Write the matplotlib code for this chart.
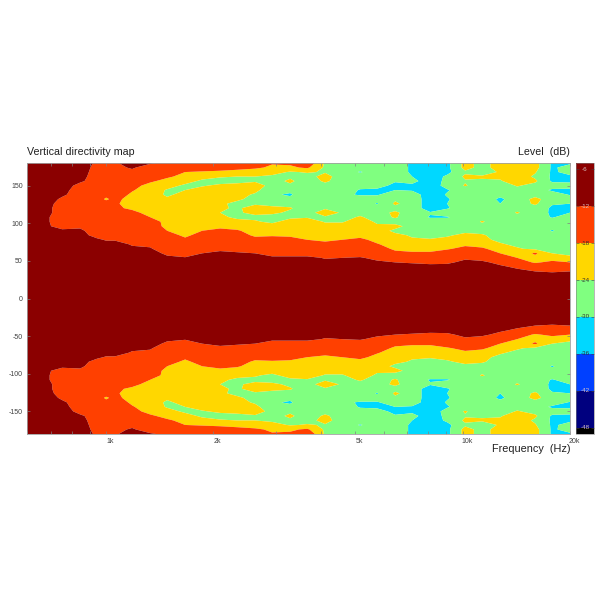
import numpy as np
import matplotlib
matplotlib.use("Agg")
import matplotlib.pyplot as plt
from matplotlib.colors import ListedColormap, BoundaryNorm
from matplotlib.ticker import NullFormatter
from matplotlib.transforms import ScaledTranslation

plt.rcParams['font.family'] = ['Liberation Sans', 'DejaVu Sans']
plt.rcParams['axes.unicode_minus'] = False

FREQ_HZ = [600, 675, 753, 846, 943, 1000, 1060, 1183, 1329, 1483, 1666, 1859, 2088,
           2331, 2618, 2922, 3282, 3663, 4115, 4593, 5158, 5757, 6467, 7217, 8108,
           9050, 10160, 11340, 12740, 14220, 15970, 17830, 20000]

ANGLE_DEG = [180, 174, 168, 162, 156, 150, 144, 138, 132, 126, 120, 114, 108, 102,
             96, 90, 84, 78, 72, 66, 60, 54, 48, 42, 36, 30, 15, 0]

# one line per frequency, angle 180 -> 0. rear half is the mirror of this
LEVEL_DB = [
    [-7, -7, -7, -7, -7, -7, -7, -7, -7, -7, -7, -7, -7, -7, -7, -7, -7, -7, -7, -7, -7, -7, -7, -7, -7, -7, -6, -6],
    [-8, -8, -8, -8, -8, -8, -8, -8, -9, -9, -10, -10, -11, -11, -11, -10, -9, -8, -8, -8, -7, -7, -7, -7, -7, -7, -6, -6],
    [-8, -8, -8, -9, -9, -9, -10, -11, -13, -15, -15, -15, -15, -15, -14, -11, -10, -9, -8, -8, -7, -7, -7, -7, -7, -7, -6, -6],
    [-9, -9, -9, -10, -11, -14, -15, -15, -15, -15, -15, -15, -15, -15, -13, -11, -10, -9, -8, -8, -8, -7, -7, -7, -7, -7, -6, -6],
    [-13, -14, -15, -15, -15, -15, -15, -15, -15, -15, -15, -15, -15, -15, -15, -15, -14, -11, -9, -8, -8, -8, -7, -7, -7, -7, -6, -6],
    [-13, -14, -15, -15, -15, -15, -15, -16, -19, -15, -15, -15, -15, -15, -15, -15, -15, -12.5, -10, -9, -8, -8, -7, -7, -7, -7, -6, -6],
    [-12.5, -13, -14, -15, -15, -15, -15, -15, -16, -17, -17, -15, -15, -15, -15, -15, -15, -12.5, -10, -9, -8, -8, -7, -7, -7, -7, -6, -6],
    [-10, -11.5, -13, -15, -15, -16, -17.5, -19, -21, -21, -19, -16.5, -15, -15, -15, -15, -15, -14, -12.5, -11, -9, -8, -8, -7, -7, -7, -6, -6],
    [-11.5, -14, -15, -15, -17, -20, -21, -21, -21, -21, -21, -20, -18, -15, -15, -15, -15, -15, -13, -11.5, -10, -9, -8, -8, -7, -7, -6, -6],
    [-13, -14, -15, -17, -20, -22, -24.5, -25, -23, -21, -21, -21, -21, -20, -19.5, -18, -16, -15, -15, -15, -13, -11, -9, -8, -7, -7, -6, -6],
    [-14, -15, -18, -20, -22, -25, -24, -22, -21, -21, -21, -21, -21, -21, -20, -20, -19, -17, -15, -15, -15, -11.5, -10, -8, -8, -7, -6, -6],
    [-14, -15, -18.5, -22, -25, -24.5, -22, -21, -21, -21, -21, -21, -21, -21, -20, -18, -16, -15, -15, -15, -12, -10, -9, -8, -8, -7, -6, -6],
    [-14, -15.5, -19, -23.5, -26, -23, -21.5, -21.5, -22, -23, -23.5, -24, -23, -21, -19, -17, -15, -15, -15, -13, -11, -9, -8, -8, -8, -7, -6, -6],
    [-14, -16, -20, -24, -25.5, -22.5, -21.5, -21.5, -23, -25.5, -24.5, -24.5, -25, -22.5, -20, -17.5, -15.5, -15, -15, -13.5, -11.5, -9, -8, -8, -8, -7, -6, -6],
    [-15, -17, -21, -24, -24.5, -22, -22, -25, -26, -24.5, -22.5, -23, -25, -23.5, -21, -20, -19, -16, -15, -14, -12, -10, -9, -8, -8, -7, -6, -6],
    [-17.5, -19, -22, -25, -26, -25.5, -29.5, -29.5, -27, -26, -22.5, -23, -26, -25, -22, -20, -18.5, -16, -15, -15, -13, -11.5, -10, -8, -8, -7, -6, -6],
    [-17, -19, -24.5, -25, -23, -25, -29, -30.5, -29, -26, -23.5, -25, -25, -22, -21, -20, -19, -16, -15, -15, -14, -11, -9, -8, -8, -7, -6, -6],
    [-13, -17, -23.5, -26, -27, -27, -27, -27, -27, -27, -27, -25.5, -24.5, -21, -21, -20.5, -19.5, -18, -15.5, -15, -14, -11, -9, -8, -8, -7, -6, -6],
    [-25, -25, -24.5, -22, -23, -26, -27, -27, -27, -27, -24.5, -22, -24.5, -24.5, -22, -20.5, -20, -19, -16.5, -15, -15, -12.3, -11, -9, -8, -7, -6, -6],
    [-26, -26, -27, -27, -27, -27, -27, -29, -27, -27, -26, -24.5, -25.5, -24.5, -22, -21, -20, -18, -16, -15, -15, -12, -10, -9, -8, -7, -6, -6],
    [-27, -27.5, -30.5, -27, -27, -28, -30.5, -30.5, -27.5, -27, -27, -25.5, -23.5, -21, -21, -21, -20, -16.5, -15, -15, -14.5, -11.5, -9, -8, -8, -7, -6, -6],
    [-27, -27, -27, -27, -27, -28, -31, -30.5, -27.5, -30.5, -27, -26, -26, -25, -23, -22, -21, -20, -17.5, -15.5, -15, -13.5, -11, -9, -8, -7, -6, -6],
    [-27, -27, -27, -27, -29.5, -31.5, -30, -27, -25, -23, -26, -23, -23.5, -26, -22.5, -25, -23, -21, -21, -19, -16.5, -15, -12, -10.5, -9, -8, -6, -6],
    [-31, -31, -31, -30, -28.5, -31, -30.5, -27.5, -27, -27, -27, -27, -27, -26, -26, -26, -24.5, -23.5, -21, -20, -17, -15.5, -12.5, -10, -9, -8, -6, -6],
    [-33, -33, -33, -33, -33, -33, -33, -33, -33, -33, -33, -29.5, -30.5, -27, -27, -26, -26, -23.5, -22, -20, -17, -15, -13, -10.5, -9, -8, -6, -6],
    [-31.5, -31.5, -31.5, -29, -28.5, -28, -30.5, -29.5, -30.5, -30, -30.5, -27, -30.5, -27, -26.5, -25.5, -24.5, -23, -21, -18.5, -15.5, -15, -13, -10, -9, -8, -6, -6],
    [-22, -22, -25, -23, -24.5, -23.5, -27, -27, -27, -27, -27, -27, -27, -27, -24.5, -25, -23, -21, -19, -16.5, -14.5, -13, -10.5, -9, -8, -8, -6, -6],
    [-26, -26, -26, -23.5, -24.5, -27, -27, -27, -27, -27, -27, -27, -26, -23.5, -26, -25.5, -23.5, -23, -20.5, -17, -15, -14, -11, -9, -8, -8, -6, -6],
    [-21.5, -21.5, -23.5, -23, -24.5, -27, -27, -28.5, -31, -30, -27, -27, -27, -27, -27, -27, -26, -25, -23.5, -21, -18, -15, -13.5, -11, -9, -8, -6, -6],
    [-21, -21, -23, -21, -21, -23.5, -26, -27, -27, -27, -26, -23.5, -26, -27, -27, -27, -27, -26.5, -25, -23.5, -22, -18, -16, -13, -10.5, -9, -6, -6],
    [-22, -22, -23.5, -25, -23, -26, -27, -26, -22.5, -23, -26.5, -27, -27, -27, -27, -27, -27, -27, -26, -25, -17, -20, -18.5, -15, -12, -10, -8, -6],
    [-31, -31, -31, -31, -31, -27, -31, -27, -27, -29.5, -31, -31, -30.5, -27, -28, -30.5, -27, -27, -26, -25.5, -24, -20, -17, -15.5, -12.5, -10, -8, -6],
    [-31, -27.5, -28, -31, -31, -28, -31, -30.5, -27, -30, -31, -30, -27, -27, -26.5, -26.5, -26.5, -26.5, -26, -25, -24.5, -23.5, -18, -15, -12, -10, -8, -6],
]

BOUNDS = [-49, -48, -42, -36, -30, -24, -18, -12, -5]
COLORS = ["#000000", "#00007f", "#0040ff", "#00d8ff", "#80ff80", "#ffd700", "#ff4000", "#8b0000"]
FREQ_LABELS = {1000: "1k", 2000: "2k", 5000: "5k", 10000: "10k", 20000: "20k"}
CBAR_TICKS = [-6, -12, -18, -24, -30, -36, -42, -48]
ANGLE_TICKS = [150, 100, 50, 0, -50, -100, -150]


def px_box(x0, y0, x1, y1):
    return [x0 / 600, 1 - y1 / 600, (x1 - x0) / 600, (y1 - y0) / 600]


top = np.array(LEVEL_DB).T
angles = np.array(ANGLE_DEG, dtype=float)
z = np.vstack([top, top[-2::-1]])
y = np.concatenate([angles, -angles[-2::-1]])

fig = plt.figure(figsize=(6, 6), dpi=100)
ax = fig.add_axes(px_box(27, 163, 570, 434))
cmap = ListedColormap(COLORS)
norm = BoundaryNorm(BOUNDS, cmap.N)
cs = ax.contourf(FREQ_HZ, y, z, levels=BOUNDS, cmap=cmap, norm=norm, extend="neither",
                 antialiased=True)

ax.set_xscale("log")
ax.set_xlim(600, 20000)
ax.set_ylim(-180, 180)
minor = [600, 700, 800, 900, 3000, 4000, 6000, 7000, 8000, 9000]
ax.set_xticks(list(FREQ_LABELS))
ax.set_xticklabels(list(FREQ_LABELS.values()))
ax.set_xticks(minor, minor=True)
ax.xaxis.set_minor_formatter(NullFormatter())
ax.set_yticks(ANGLE_TICKS)
ax.tick_params(which="both", direction="in", length=2, width=0.5, color="#808080",
               labelsize=5, labelcolor="#404040", top=True, right=True, pad=3)
shift = ScaledTranslation(4 / 100, 0, fig.dpi_scale_trans)
for lbl in ax.get_xticklabels():
    lbl.set_transform(lbl.get_transform() + shift)
for s in ax.spines.values():
    s.set_linewidth(0.6)
    s.set_color("#a0a0a0")

cax = fig.add_axes(px_box(576, 163, 594, 434))
cb = fig.colorbar(cs, cax=cax, spacing="proportional")
cb.set_ticks(CBAR_TICKS)
cb.set_ticklabels([])
cb.ax.minorticks_off()
cb.ax.tick_params(direction="in", length=2, width=0.4, color="#404040", left=True, right=True)
cb.outline.set_linewidth(0.4)
cb.outline.set_edgecolor("#808080")
for v in CBAR_TICKS:
    tc = "#d8c0c0" if v in (-6, -12, -42, -48) else "#303030"
    cax.text(0.5, v, str(v), transform=cax.get_yaxis_transform(), fontsize=4.5,
             ha="center", va="center", color=tc)

fig.text(27 / 600, 1 - 152 / 600, "Vertical directivity map", fontsize=7.7,
         ha="left", va="center", color="#202020")
fig.text(570 / 600, 1 - 152 / 600, "Level  (dB)", fontsize=7.7,
         ha="right", va="center", color="#202020")
fig.text(570 / 600, 1 - 449 / 600, "Frequency  (Hz)", fontsize=7.8,
         ha="right", va="center", color="#202020")

fig.savefig("out.png", dpi=100)
